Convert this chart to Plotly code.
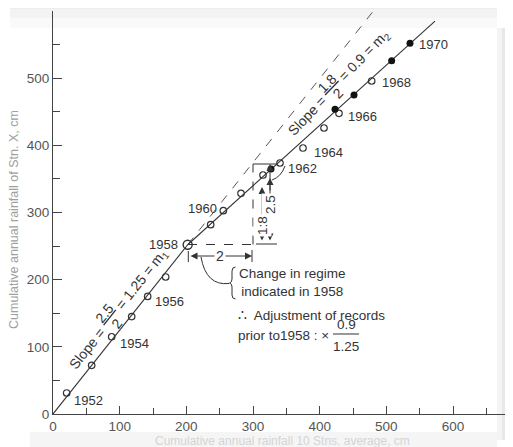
import plotly.graph_objects as go
import math

# ---------------- data ----------------
open_x = [20.5, 58, 88, 118, 142, 169, 236.5, 255.5, 282, 315, 340.5, 375, 406.5, 429, 478]
open_y = [31.3, 72.5, 115, 145, 175, 204, 281.8, 302.7, 328.6, 355.8, 373.7, 396, 425.8, 447.7, 495.8]
break_x = [202]
break_y = [252]
filled_x = [327, 423, 451.5, 508, 535.5]
filled_y = [364.7, 453.6, 475, 526, 552]
regime1_x = [0, 202]
regime1_y = [0, 252]
regime2_x = [202, 573]
regime2_y = [252, 585]
extension_x = [202, 479]
extension_y = [252, 598]
year_labels = ["1952", "1954", "1956", "1958", "1960", "1962", "1964", "1966", "1968", "1970"]
x_tick_vals = [0, 100, 200, 300, 400, 500, 600]
y_tick_vals = [0, 100, 200, 300, 400, 500, 600]
y_tick_text = ["0", "100", "200", "300", "400", "500", "<span style='color:#cfcfcf'>600</span>"]

# ---------------- layout geometry ----------------
# The page body has an 8px margin, so the figure is drawn 8px smaller and
# all placements below are given in window pixels.
OFF = 8
SW, SH = 513, 447                 # window size
PL, PR, PT, PB = 53, 513, 11, 414  # plot area in window pixels
XMAX, YMAX = 690, 600
W, H = SW - OFF, SH - OFF
L, T = PL - OFF, PT - OFF
R, B = 0, SH - PB


def X(px):
    return (px - PL) / (PR - PL) * XMAX


def Y(py):
    return (PB - py) / (PB - PT) * YMAX


def PXp(px):
    return (px - PL) / (PR - PL)


def PYp(py):
    return (PB - py) / (PB - PT)


INK = "#333333"
FONT = "Arial, Liberation Sans, sans-serif"

fig = go.Figure()
fig.add_trace(go.Scatter(x=extension_x, y=extension_y, mode="lines",
                         line=dict(color="#555", width=1, dash="dash"), hoverinfo="skip"))
fig.add_trace(go.Scatter(x=regime1_x, y=regime1_y, mode="lines",
                         line=dict(color=INK, width=1.1), hoverinfo="skip"))
fig.add_trace(go.Scatter(x=regime2_x, y=regime2_y, mode="lines",
                         line=dict(color=INK, width=1.1), hoverinfo="skip"))
fig.add_trace(go.Scatter(x=open_x, y=open_y, mode="markers",
                         marker=dict(symbol="circle-open", size=6.5, color=INK, line=dict(width=1.2))))
fig.add_trace(go.Scatter(x=break_x, y=break_y, mode="markers",
                         marker=dict(symbol="circle-open", size=9, color=INK, line=dict(width=1.4))))
fig.add_trace(go.Scatter(x=filled_x, y=filled_y, mode="markers",
                         marker=dict(symbol="circle", size=7, color="#111")))

ann = []

# year labels (pixel placements)
label_place = [(72, 400, "left"), (118, 343, "left"), (153, 301, "left"), (180, 244, "right"),
               (219, 208, "right"), (286, 168, "left"), (312, 152, "left"), (346, 116, "left"),
               (380, 82, "left"), (417, 44, "left")]
for txt_, (px, py, anc) in zip(year_labels, label_place):
    ann.append(dict(x=X(px), y=Y(py), text=txt_, showarrow=False, xanchor=anc, yanchor="middle",
                    font=dict(size=13, color=INK, family=FONT)))


def rot_text(px, py, t, angle, size=14):
    ann.append(dict(x=X(px), y=Y(py), text=t, showarrow=False, textangle=angle,
                    xanchor="center", yanchor="middle", font=dict(size=size, color=INK, family=FONT)))


# slope m1 label along first line
a1 = math.radians(51.5)
u1 = (math.cos(a1), -math.sin(a1))
n1 = (-math.sin(a1), -math.cos(a1))
O1 = (PL, PB)


def p1(s, d):
    return (O1[0] + s * u1[0] + d * n1[0], O1[1] + s * u1[1] + d * n1[1])


rot_text(*p1(73, 14), "Slope =", -51.5)
rot_text(*p1(111, 22), "<u>2.5</u>", -51.5)
rot_text(*p1(111, 6), "2", -51.5)
rot_text(*p1(160, 14), "= 1.25 = m<sub>1</sub>", -51.5)

# slope m2 label
a2 = math.radians(46)
u2 = (math.cos(a2), -math.sin(a2))
n2 = (-math.sin(a2), -math.cos(a2))
O2 = (290, 133)


def p2(s, d):
    return (O2[0] + s * u2[0] + d * n2[0], O2[1] + s * u2[1] + d * n2[1])


rot_text(*p2(24, 0), "Slope =", -46)
rot_text(*p2(62, 8), "<u>1.8</u>", -46)
rot_text(*p2(62, -7), "2", -46)
rot_text(*p2(107, 0), "= 0.9 = m<sub>2</sub>", -46)


def arrow(x0, y0, x1, y1, both=True):
    ann.append(dict(x=X(x1), y=Y(y1), ax=X(x0), ay=Y(y0), axref="x", ayref="y", xref="x", yref="y",
                    text="", showarrow=True, arrowhead=2, arrowsize=1.4, arrowwidth=1, arrowcolor=INK,
                    startarrowhead=2, startarrowsize=1.4,
                    arrowside="end+start" if both else "end", standoff=0, startstandoff=0))


# dimension arrows
arrow(189, 256, 252, 256)
arrow(262, 242, 262, 187)
arrow(270, 242, 270, 164)
arrow(270, 192, 270, 178, both=False)


def txt(px, py, t, size=13.5, anchor="center", angle=0, bg=None, color=INK):
    d = dict(x=X(px), y=Y(py), text=t, showarrow=False, xanchor=anchor, yanchor="middle",
             textangle=angle, font=dict(size=size, color=color, family=FONT))
    if bg:
        d["bgcolor"] = bg
    ann.append(d)


txt(220, 256, "2", size=14, bg="white")
txt(262, 226, "1:8", size=13.5, angle=-90, bg="white")
txt(270, 205, "2.5", size=13.5, angle=-90, bg="white")

txt(237, 282, "Change in regime<br>indicated in 1958", size=13.5, anchor="left")
txt(236, 315, "∴  Adjustment of records", size=13.5, anchor="left")
txt(236, 335, "prior to1958 : ×", size=13.5, anchor="left")
txt(346, 324, "0.9", size=13.5)
txt(346, 346, "1.25", size=13.5)

# axis titles (faded as in the reference)
ann.append(dict(x=PXp(14), y=PYp(220), xref="paper", yref="paper",
                text="Cumulative annual rainfall of Stn. X, cm",
                showarrow=False, textangle=-90, xanchor="center", yanchor="middle",
                font=dict(size=12.5, color="#a0a0a0", family=FONT)))
ann.append(dict(x=PXp(282), y=PYp(441), xref="paper", yref="paper",
                text="Cumulative annual rainfall 10 Stns. average, cm",
                showarrow=False, xanchor="center", yanchor="middle",
                font=dict(size=12, color="#d4d4d4", family=FONT)))

shapes = []

# soft card shadow around the picture (paper coords, behind everything)
for (x0, x1, c) in [(497, 502, "#f4f4f4"), (502, 507, "#e8e8e8"), (507, 513, "#dcdcdc")]:
    shapes.append(dict(type="rect", xref="paper", yref="paper", x0=PXp(x0), x1=PXp(x1),
                       y0=PYp(440), y1=PYp(28), fillcolor=c, line=dict(width=0), layer="below"))
for (y0, y1, c) in [(0, 9, "#ededed"), (9, 18, "#f3f3f3"), (18, 28, "#f9f9f9")]:
    shapes.append(dict(type="rect", xref="paper", yref="paper", x0=PXp(10), x1=PXp(497),
                       y0=PYp(y1), y1=PYp(y0), fillcolor=c, line=dict(width=0), layer="below"))
shapes.append(dict(type="rect", xref="paper", yref="paper", x0=PXp(30), x1=PXp(497),
                   y0=PYp(447), y1=PYp(432), fillcolor="#f5f5f5", line=dict(width=0), layer="below"))


def seg(x0, y0, x1, y1, dash="solid"):
    shapes.append(dict(type="line", x0=X(x0), y0=Y(y0), x1=X(x1), y1=Y(y1), xref="x", yref="y",
                       line=dict(color=INK, width=1, dash=dash)))


seg(188, 244.5, 253, 244.5, "dash")
seg(253, 244.5, 253, 164, "dash")
seg(253, 164, 276, 164)
seg(256, 244, 277, 244)
seg(188.3, 251, 188.3, 262)
seg(252, 250, 252, 262)
seg(333, 334, 359, 334)


def path(pts_str):
    shapes.append(dict(type="path", path=pts_str, xref="x", yref="y",
                       line=dict(color=INK, width=1)))


def P(px, py):
    return f"{X(px):.3f},{Y(py):.3f}"


# brace
path("M " + P(235.5, 267) + " Q " + P(232, 267) + " " + P(232, 271) + " L " + P(232, 279) +
     " Q " + P(232, 282.5) + " " + P(229.5, 283) + " Q " + P(232, 283.5) + " " + P(232, 287) +
     " L " + P(232, 295) + " Q " + P(232, 299) + " " + P(235.5, 299))
# leader from 1958 arrow to brace
path("M " + P(201, 257) + " Q " + P(206, 286) + " " + P(229, 283.5))
# leader for 1962
path("M " + P(285, 166) + " Q " + P(281, 177) + " " + P(272, 180))

fig.update_layout(
    width=W, height=H, margin=dict(l=L, r=R, t=T, b=B, pad=0, autoexpand=False),
    plot_bgcolor="rgba(0,0,0,0)", paper_bgcolor="white", showlegend=False,
    font=dict(family=FONT, color=INK),
    annotations=ann, shapes=shapes,
    xaxis=dict(range=[0, XMAX], automargin=False, tickmode="array", tickvals=x_tick_vals, ticks="inside",
               ticklen=8, tickwidth=1.2, tickcolor="#444", showline=True, linecolor="#444", linewidth=1.2,
               showgrid=False, zeroline=False, tickfont=dict(size=13.5, color="#555"),
               minor=dict(tickmode="linear", tick0=0, dtick=50, ticks="inside", ticklen=6,
                          tickcolor="#444", tickwidth=1.2, showgrid=False)),
    yaxis=dict(range=[0, YMAX], automargin=False, tickmode="array", tickvals=y_tick_vals,
               ticktext=y_tick_text, ticks="inside", ticklen=9, tickwidth=1.2, tickcolor="#444",
               showline=True, linecolor="#444", linewidth=1.2, showgrid=False, zeroline=False,
               tickfont=dict(size=13.5, color="#555"),
               minor=dict(tickmode="linear", tick0=0, dtick=50, ticks="inside", ticklen=7,
                          tickcolor="#444", tickwidth=1.2, showgrid=False)),
)

fig.write_html("out.html")
